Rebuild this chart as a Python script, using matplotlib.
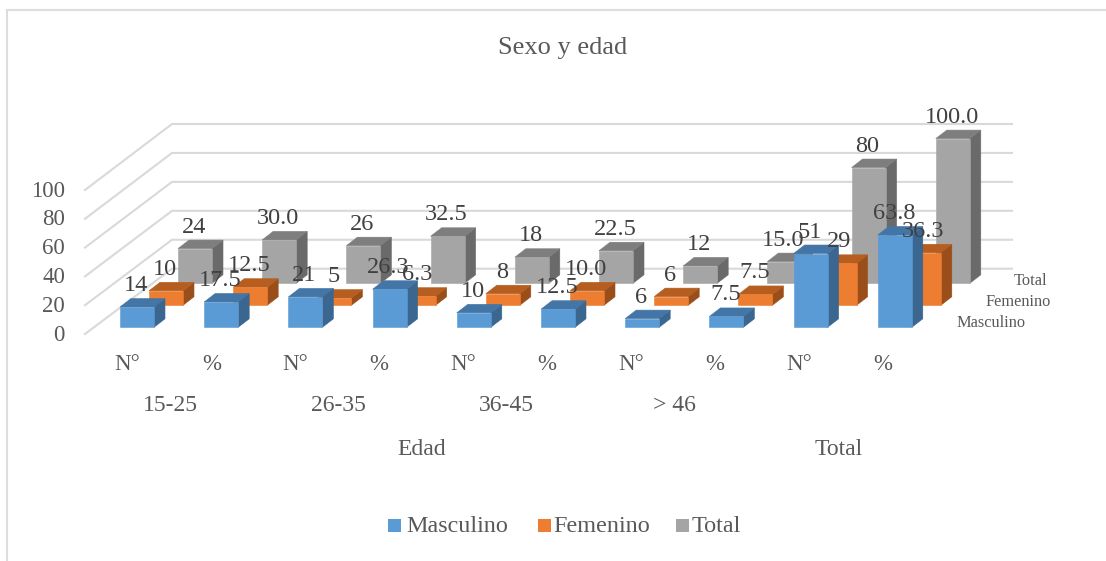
#!/usr/bin/env python3
"""Sexo y edad: Excel style 3D bars drawn as oblique boxes on a pixel-sized axes."""
import matplotlib

matplotlib.use("Agg")
import matplotlib.pyplot as plt
from matplotlib.patches import Polygon, Rectangle

plt.rcParams["font.family"] = ["Liberation Serif", "DejaVu Serif"]

W, H = 1106, 561

measures = ["N°", "%", "N°", "%", "N°", "%", "N°", "%", "N°", "%"]
masculino = [14, 17.5, 21, 26.3, 10, 12.5, 6, 7.5, 51, 63.8]
femenino = [10, 12.5, 5, 6.3, 8, 10, 6, 7.5, 29, 36.3]
total = [24, 30, 26, 32.5, 18, 22.5, 12, 15, 80, 100]
age_groups = ["15-25", "26-35", "36-45", "> 46"]
value_ticks = [0, 20, 40, 60, 80, 100]
series_names = ["Masculino", "Femenino", "Total"]

# front, top, side
COLORS = {
    "Masculino": ("#5B9BD5", "#4376A6", "#3A668F"),
    "Femenino": ("#ED7D31", "#B65E20", "#9A4F1B"),
    "Total": ("#A5A5A5", "#7E7E7E", "#6A6A6A"),
}
GRID = "#D9D9D9"
TEXT = "#595959"
LABEL = "#404040"

# oblique projection, in pixels
X0, DX = 120.0, 84.2     # left of first bar, step per category
Y0 = 327.3               # base of the front series
SX, SY = 29.0, -22.0     # shift per series
BAR_W = 34.0
DEPTH_X, DEPTH_Y = 11.0, -8.5
PX_PER_UNIT = 1.447


def box(ax, left, base, value, colors, z):
    top = base - value * PX_PER_UNIT
    right = left + BAR_W
    dx, dy = DEPTH_X, DEPTH_Y
    front, lid, side = colors
    ax.add_patch(Polygon([(right, base), (right + dx, base + dy), (right + dx, top + dy), (right, top)],
                         fc=side, ec=side, lw=0.4, zorder=z))
    ax.add_patch(Polygon([(left, top), (left + dx, top + dy), (right + dx, top + dy), (right, top)],
                         fc=lid, ec=lid, lw=0.4, zorder=z))
    ax.add_patch(Rectangle((left, top), BAR_W, base - top, fc=front, ec=front, lw=0.4, zorder=z + 0.1))


def main():
    fig = plt.figure(figsize=(W / 100, H / 100), dpi=100)
    ax = fig.add_axes([0, 0, 1, 1])
    ax.set_xlim(0, W)
    ax.set_ylim(H, 0)
    ax.axis("off")

    # chart frame, only left and top are inside the picture
    ax.plot([7, 7, W], [H, 10, 10], color="#DDDDDD", lw=1.5, zorder=1, solid_joinstyle="miter")

    # walls
    for tick in value_ticks:
        front_y = 334 - tick * 1.44
        back_y = 268.7 - tick * PX_PER_UNIT
        ax.plot([85, 172, 1012], [front_y, back_y, back_y], color=GRID, lw=1.5, zorder=2,
                solid_joinstyle="miter")
        ax.text(65, front_y + 1, str(tick), ha="right", va="center", fontsize=16.5, color=TEXT)

    series = [masculino, femenino, total]
    # back series first so the front ones cover them
    for s in range(2, -1, -1):
        colors = COLORS[series_names[s]]
        for i, value in enumerate(series[s]):
            box(ax, X0 + i * DX + s * SX, Y0 + s * SY, value, colors, 10 + (2 - s) + i * 0.01)

    for s in range(3):
        for i, value in enumerate(series[s]):
            text = f"{value:.1f}" if i % 2 else f"{value:.0f}"
            cx = X0 + i * DX + s * SX + BAR_W / 2 - 1
            cy = Y0 + s * SY - value * PX_PER_UNIT - 21.5
            ax.text(cx, cy, text, ha="center", va="center", fontsize=17.5, color=LABEL, zorder=20)

    # category labels
    for i, name in enumerate(measures):
        ax.text(X0 + 7.5 + i * 83.9, 364, name, ha="center", va="center", fontsize=16.5, color=TEXT)
    for i, name in enumerate(age_groups):
        ax.text(170 + i * 168.3, 405, name, ha="center", va="center", fontsize=17, color=TEXT)
    ax.text(422, 449, "Edad", ha="center", va="center", fontsize=17, color=TEXT)
    ax.text(839, 449, "Total", ha="center", va="center", fontsize=17, color=TEXT)

    # series axis labels
    for name, x, y in zip(series_names, [991, 1018, 1031], [323, 302, 281]):
        ax.text(x, y, name, ha="center", va="center", fontsize=11.8, color=TEXT)

    ax.text(563, 47.5, "Sexo y edad", ha="center", va="center", fontsize=19, color=TEXT)

    # legend
    for name, sq, tx in zip(series_names, [388, 538, 676], [406, 553, 692]):
        ax.add_patch(Rectangle((sq, 519), 13, 13, fc=COLORS[name][0], ec="none"))
        ax.text(tx, 526, name, ha="left", va="center", fontsize=17.4, color=TEXT)

    fig.savefig("out.png", dpi=100)
    plt.close(fig)


if __name__ == "__main__":
    main()
